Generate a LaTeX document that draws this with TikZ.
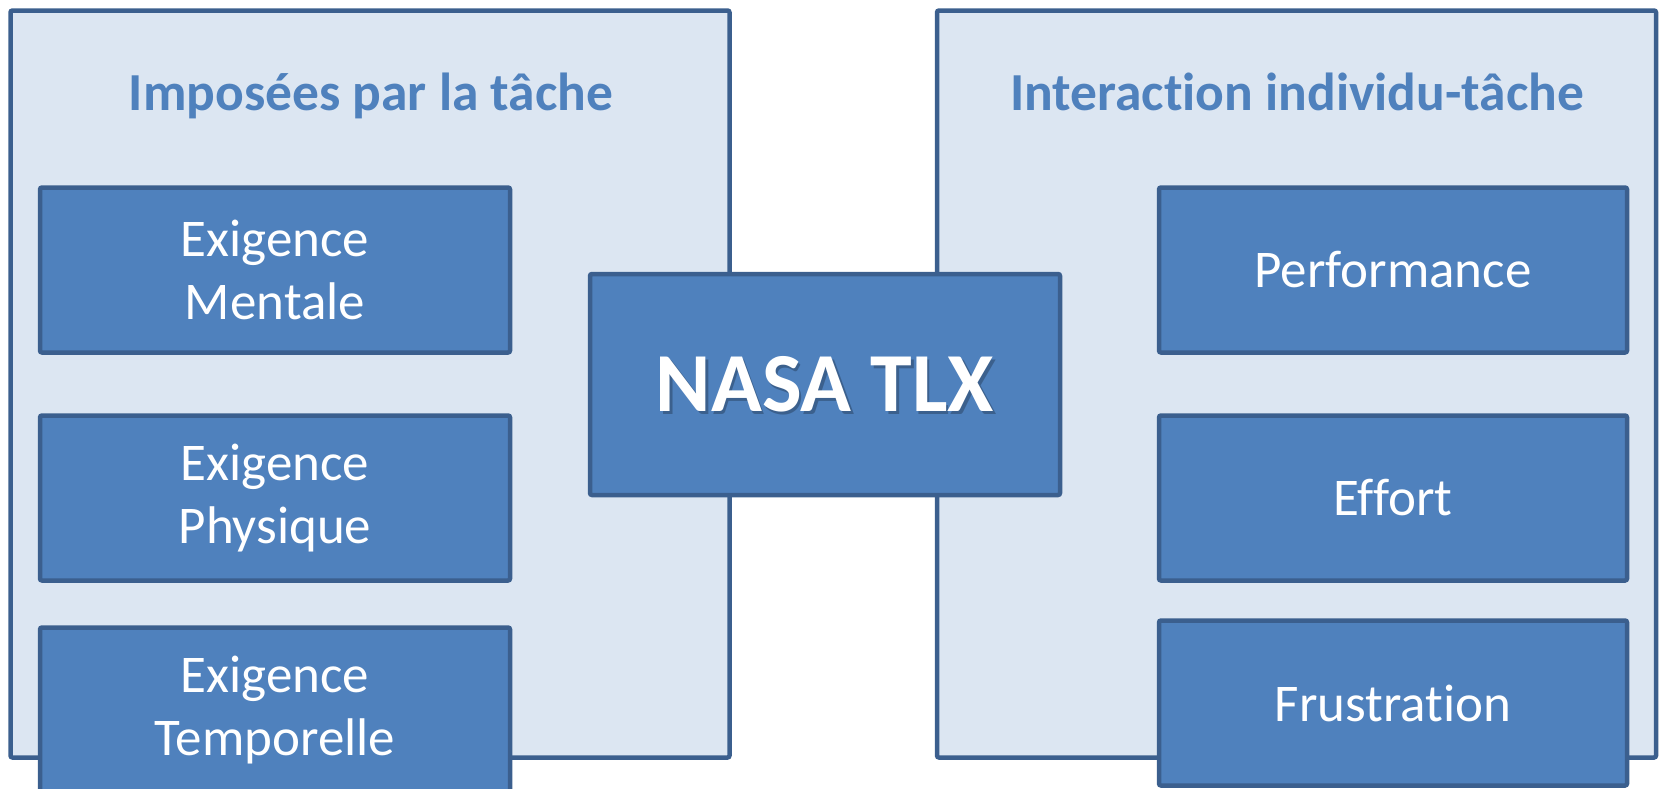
\documentclass[tikz,border=0pt]{standalone}
\usepackage{fontspec}
\setmainfont{Carlito}[Ligatures=NoCommon]
\definecolor{panelfill}{HTML}{DCE6F2}
\definecolor{edge}{HTML}{3B5F8E}
\definecolor{boxfill}{HTML}{4F81BD}
\begin{document}
\begin{tikzpicture}[x=1pt,y=-1pt,
  panel/.style={draw=edge, fill=panelfill, line width=4.5pt, rounded corners=2pt,
    minimum width=719pt, minimum height=747pt, inner sep=0pt},
  item/.style={draw=edge, fill=boxfill, line width=4.5pt, rounded corners=2pt,
    minimum width=470pt, minimum height=165pt, inner sep=0pt, text=white,
    align=center, font=\fontsize{53}{63}\selectfont},
  heading/.style={text=boxfill, anchor=base, inner sep=0pt,
    font=\bfseries\fontsize{53.5}{64}\selectfont}]
\useasboundingbox (0,0) rectangle (1661,788);
\clip (0,0) rectangle (1661,788);

% left group: demands imposed by the task
\node[panel] (lp) at (370,384) {};
\node[heading] (lt) at (371,110) {Imposées par la tâche};
\node[item] (m1) at (275,270) {Exigence\\Mentale};
\node[item] (m2) at (275,498) {Exigence\\Physique};
\node[item] (m3) at (275,710) {Exigence\\Temporelle};

% right group: individual-task interaction
\node[panel] (rp) at (1296.5,384) {};
\node[heading] (rt) at (1297,110) {Interaction individu-tâche};
\node[item, minimum width=468pt] (r1) at (1393,270) {Performance};
\node[item, minimum width=468pt] (r2) at (1393,498) {Effort};
\node[item, minimum width=468pt] (r3) at (1393,703) {Frustration};

% central box with a soft text shadow
\node[item, minimum height=221pt] (nasa) at (825,384.5) {};
\node[text=black, opacity=0.25, font=\bfseries\fontsize{84}{100}\selectfont]
  (nasashadow) at ([shift={(2.5,2.5)}]nasa.center) {NASA TLX};
\node[text=white, font=\bfseries\fontsize{84}{100}\selectfont]
  (nasatext) at (nasa.center) {NASA TLX};
\end{tikzpicture}
\end{document}
